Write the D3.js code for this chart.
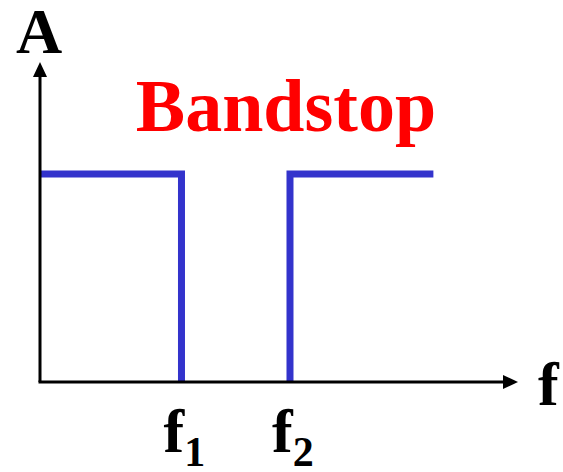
<!DOCTYPE html>
<html>
<head>
<meta charset="utf-8">
<script src="https://cdn.jsdelivr.net/npm/d3@7"></script>
<style>
  body { margin: 0; background: #fff; }
</style>
</head>
<body>
<div id="chart"></div>
<script>
// response curve, two pieces (frequency, amplitude)
const lowFreq  = [0, 29.6, 29.6];
const lowAmp   = [0.65, 0.65, 0];
const highFreq = [52.3, 52.3, 82.3];
const highAmp  = [0, 0.65, 0.65];
const cutoffs = [{ base: "f", sub: "1", f: 29.6 }, { base: "f", sub: "2", f: 52.3 }];
const xMax = 100, yMax = 1;

const width = 563, height = 472;
const margin = { top: 62, right: 45, bottom: 90, left: 40 };

const svg = d3.select("#chart")
  .append("svg")
    .attr("width", width)
    .attr("height", height);

const x = d3.scaleLinear()
  .domain([0, xMax])
  .range([margin.left, width - margin.right]);

const y = d3.scaleLinear()
  .domain([0, yMax])
  .range([height - margin.bottom, margin.top]);

const line = d3.line()
  .x(d => x(d[0]))
  .y(d => y(d[1]));

const pieces = [
  lowFreq.map((f, i) => [f, lowAmp[i]]),
  highFreq.map((f, i) => [f, highAmp[i]])
];

svg.selectAll(".response")
  .data(pieces)
  .join("path")
    .attr("class", "response")
    .attr("d", line)
    .attr("fill", "none")
    .attr("stroke", "#3333CC")
    .attr("stroke-width", 7)
    .attr("stroke-linejoin", "miter");

// axes with arrow heads
const axisColor = "#000";
const head = 15, half = 7;

svg.append("line")
  .attr("x1", x(0)).attr("y1", y(0))
  .attr("x2", x(0)).attr("y2", y(yMax) + head - 1)
  .attr("stroke", axisColor)
  .attr("stroke-width", 3);

svg.append("path")
  .attr("d", `M${x(0)},${y(yMax)} L${x(0) - half},${y(yMax) + head} L${x(0) + half},${y(yMax) + head}Z`)
  .attr("fill", axisColor);

svg.append("line")
  .attr("x1", x(0) - 1.5).attr("y1", y(0))
  .attr("x2", x(xMax) - head + 1).attr("y2", y(0))
  .attr("stroke", axisColor)
  .attr("stroke-width", 3);

svg.append("path")
  .attr("d", `M${x(xMax)},${y(0)} L${x(xMax) - head},${y(0) - half} L${x(xMax) - head},${y(0) + half}Z`)
  .attr("fill", axisColor);

const label = (sel, size) => sel
  .attr("font-family", "Liberation Serif")
  .attr("font-weight", "bold")
  .attr("font-size", size);

// axis labels
svg.append("text")
  .call(label, 64)
  .attr("x", 39)
  .attr("y", 53)
  .attr("text-anchor", "middle")
  .text("A");

svg.append("text")
  .call(label, 62)
  .attr("x", 538)
  .attr("y", 405)
  .text("f");

// cutoff labels
const cut = svg.selectAll(".cutoff")
  .data(cutoffs)
  .join("text")
    .attr("class", "cutoff")
    .call(label, 62)
    .attr("x", d => x(d.f) - 18)
    .attr("y", 452);

cut.append("tspan").text(d => d.base);
cut.append("tspan")
  .attr("dy", 14)
  .attr("font-size", 42)
  .text(d => d.sub);

// title
svg.append("text")
  .call(label, 74)
  .attr("x", 286)
  .attr("y", 131)
  .attr("text-anchor", "middle")
  .attr("fill", "#FF0000")
  .text("Bandstop");
</script>
</body>
</html>
